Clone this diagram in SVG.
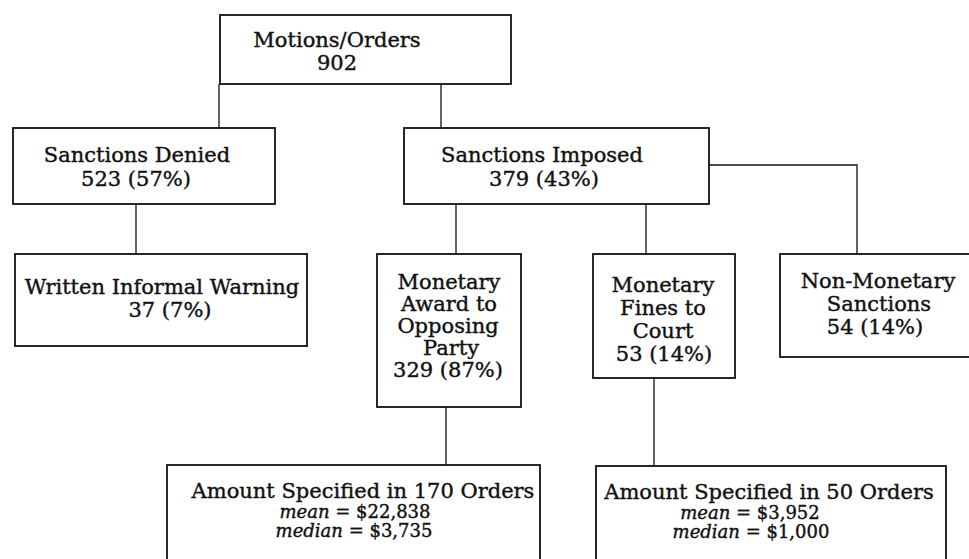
<svg xmlns="http://www.w3.org/2000/svg" width="969" height="559" viewBox="0 0 969 559">
<style>
.box{fill:#fff;stroke:#111;stroke-width:1.8}
.con{fill:none;stroke:#111;stroke-width:1.3}
text{font-family:"DejaVu Serif","Liberation Serif",serif;font-size:21px;fill:#111;stroke:#111;stroke-width:0.4;text-anchor:middle}
.it{font-style:italic}
.sm{font-size:18px}
</style>
<rect width="969" height="559" fill="#fff"/>
<g id="connectors">
<path class="con" d="M219,84 V128"/>
<path class="con" d="M441,84 V128"/>
<path class="con" d="M136,204 V254"/>
<path class="con" d="M456,204 V254"/>
<path class="con" d="M646,204 V254"/>
<path class="con" d="M709,165 H857 V254"/>
<path class="con" d="M446,407 V465"/>
<path class="con" d="M654,378 V466"/>
</g>
<g id="motions">
<rect class="box" x="220" y="15" width="291" height="69"/>
<text x="337" y="47">Motions/Orders</text>
<text x="337" y="70">902</text>
</g>
<g id="denied">
<rect class="box" x="13" y="128" width="262" height="76"/>
<text x="137" y="162">Sanctions Denied</text>
<text x="136" y="186">523 (57%)</text>
</g>
<g id="imposed">
<rect class="box" x="404" y="128" width="305" height="76"/>
<text x="542" y="162">Sanctions Imposed</text>
<text x="544" y="186">379 (43%)</text>
</g>
<g id="warning">
<rect class="box" x="15" y="254" width="292" height="92"/>
<text x="162" y="294">Written Informal Warning</text>
<text x="170" y="317">37 (7%)</text>
</g>
<g id="award">
<rect class="box" x="377" y="254" width="144" height="153"/>
<text x="449" y="289">Monetary</text>
<text x="449" y="311">Award to</text>
<text x="448" y="333">Opposing</text>
<text x="451" y="355">Party</text>
<text x="448" y="377">329 (87%)</text>
</g>
<g id="fines">
<rect class="box" x="593" y="254" width="142" height="124"/>
<text x="663" y="292">Monetary</text>
<text x="663" y="315">Fines to</text>
<text x="663" y="338">Court</text>
<text x="664" y="361">53 (14%)</text>
</g>
<g id="nonmonetary">
<rect class="box" x="780" y="254" width="200" height="103"/>
<text x="878" y="288">Non-Monetary</text>
<text x="879" y="311">Sanctions</text>
<text x="875" y="334">54 (14%)</text>
</g>
<g id="amount170">
<rect class="box" x="167" y="465" width="373" height="110"/>
<text x="363" y="498">Amount Specified in 170 Orders</text>
<text class="sm" x="355" y="518"><tspan class="it">mean</tspan> = $22,838</text>
<text class="sm" x="354" y="537"><tspan class="it">median</tspan> = $3,735</text>
</g>
<g id="amount50">
<rect class="box" x="596" y="466" width="350" height="110"/>
<text x="769" y="499">Amount Specified in 50 Orders</text>
<text class="sm" x="750" y="519"><tspan class="it">mean</tspan> = $3,952</text>
<text class="sm" x="751" y="538"><tspan class="it">median</tspan> = $1,000</text>
</g>
</svg>
